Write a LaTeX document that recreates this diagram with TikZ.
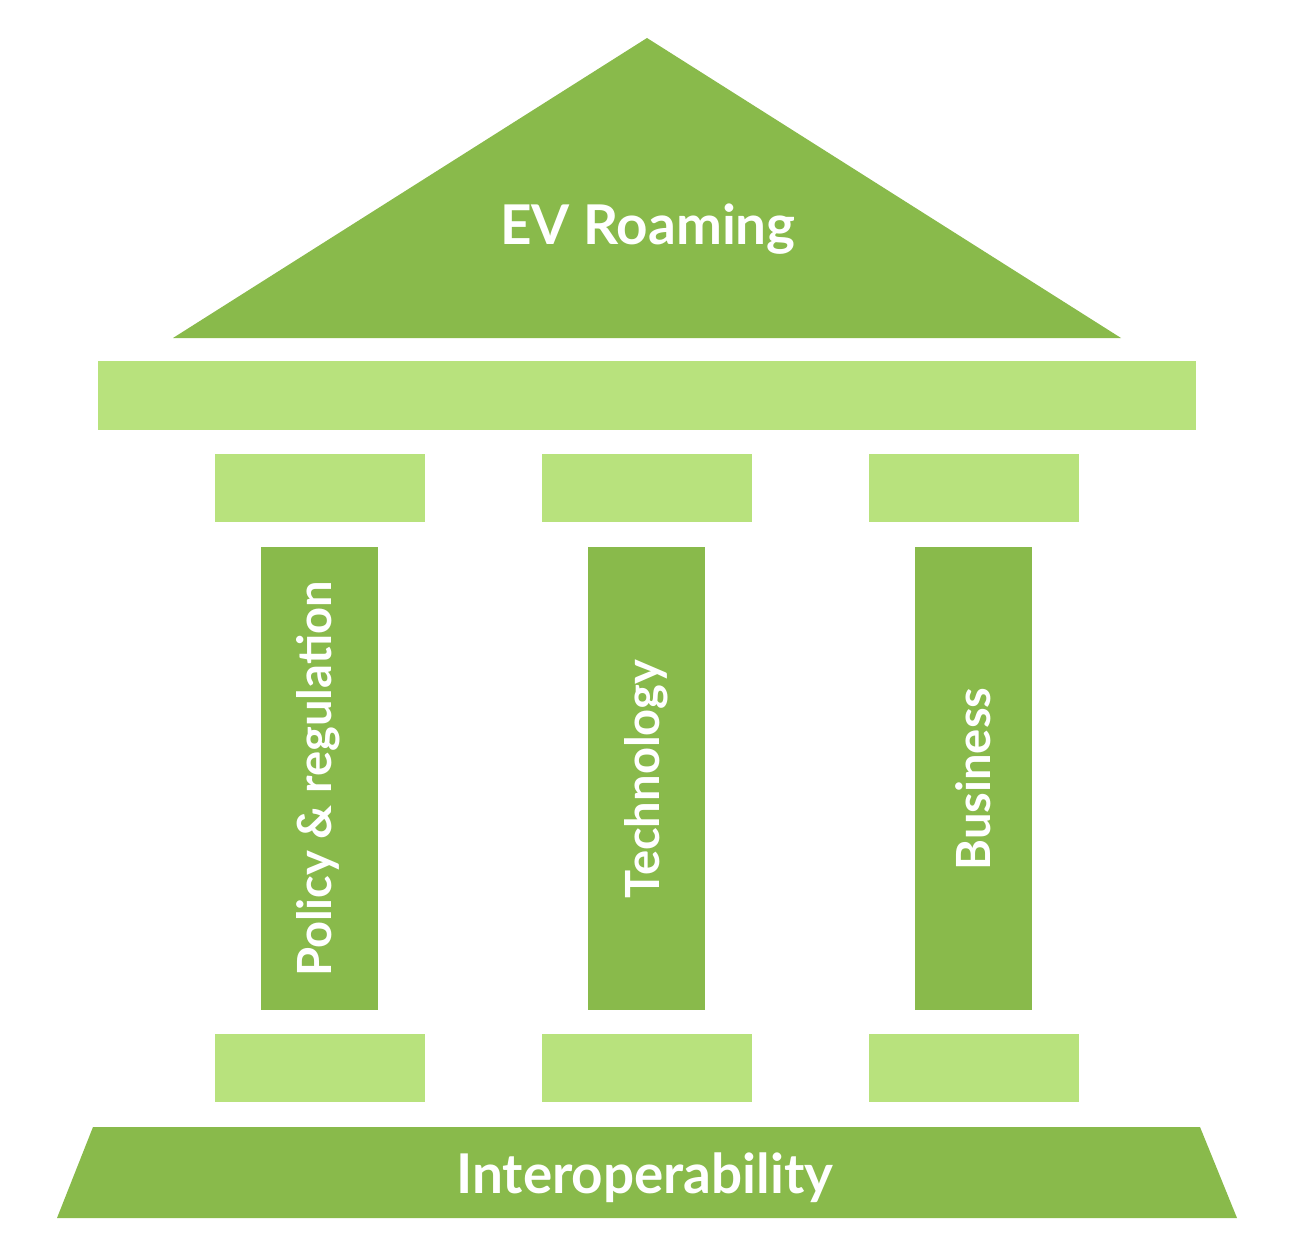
\documentclass[tikz,border=0pt]{standalone}
\usepackage{fontspec}
\setmainfont{Lato}
\usetikzlibrary{positioning}
\definecolor{darkleaf}{HTML}{89BA4B}
\definecolor{lightleaf}{HTML}{B8E27D}
\tikzset{dark/.style={fill=darkleaf},
  light/.style={fill=lightleaf},
  lbl/.style={text=white, font=\bfseries\fontsize{15.6}{18}\selectfont, inner sep=0pt},
  pillarlbl/.style={lbl, rotate=90, font=\bfseries\fontsize{13.4}{16}\selectfont}}
\begin{document}
\begin{tikzpicture}
\useasboundingbox (0,0) rectangle (12.94,-12.56);
% roof and beam
\fill[dark] (1.73,-3.38) -- (6.47,-0.38) -- (11.21,-3.38) -- cycle;
\fill[light] (0.98,-3.61) rectangle (11.96,-4.30);
% pillars
\foreach \x in {2.15,5.42,8.69} {
\fill[light] (\x,-4.54) rectangle ++(2.10,-0.68);
\fill[dark] (\x+0.46,-5.47) rectangle ++(1.17,-4.63);
\fill[light] (\x,-10.34) rectangle ++(2.10,-0.68);
}
% foundation
\fill[dark] (0.93,-11.27) -- (12.00,-11.27) -- (12.37,-12.18) -- (0.57,-12.18) -- cycle;
\node[lbl] (roof) at (6.48,-2.29) {EV Roaming};
\node[pillarlbl] (policy) at (3.18,-7.79) {Policy \& regulation};
\node[pillarlbl] (tech) at (6.46,-7.79) {Technology};
\node[pillarlbl] (biz) at (9.73,-7.79) {Business};
\node[lbl] (base) at (6.45,-11.78) {Interoperability};
\end{tikzpicture}
\end{document}
